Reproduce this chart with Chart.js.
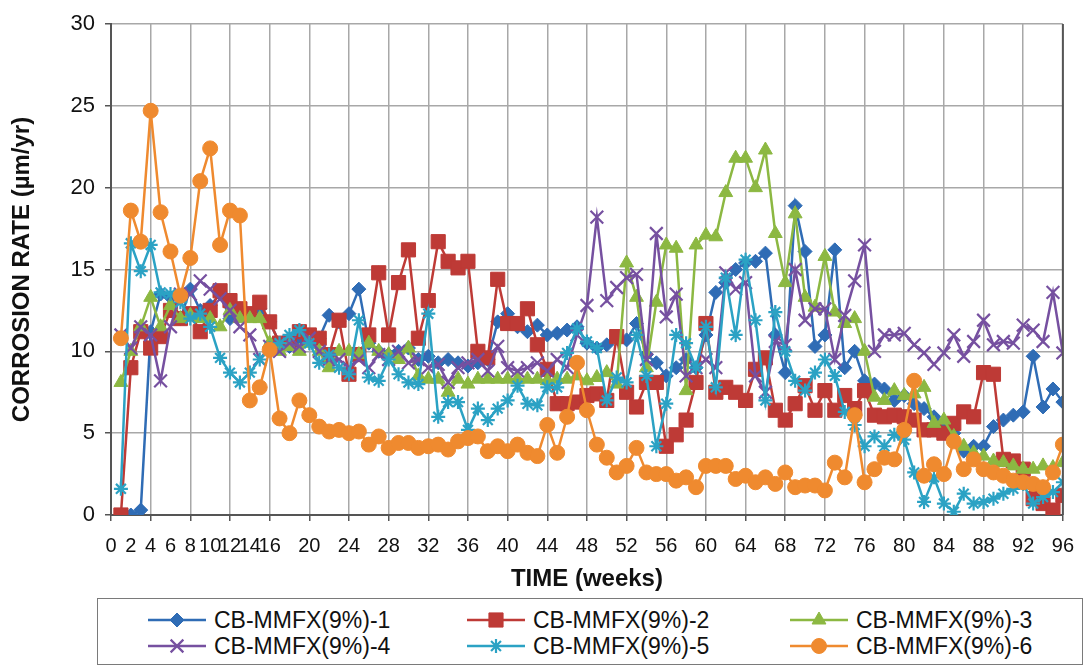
<!DOCTYPE html>
<html>
<head>
<meta charset="utf-8">
<script src="https://cdn.jsdelivr.net/npm/chart.js@4.4.0/dist/chart.umd.min.js"></script>
<style>
  body { margin: 0; background: #fff; font-family: "Liberation Sans", Arial, sans-serif; }
  #wrap { position: relative; width: 1087px; height: 668px; }
  #grafico { position: absolute; left: 0; top: 0; }
  #legend { position: absolute; left: 97px; top: 598px; width: 986px; height: 67px; border: 1.5px solid #7a7a7a; box-sizing: border-box; }
  .item { position: absolute; display: flex; align-items: center; color: #111; height: 24px; }
  .item span { font: 23px "Liberation Sans", Arial, sans-serif; white-space: nowrap; }
  .item canvas { margin-right: 8px; }
</style>
</head>
<body>
<div id="wrap">
  <canvas id="grafico" width="1087" height="595"></canvas>
  <div id="legend"></div>
</div>
<script>
// weeks 1..96
const semanas = [];
for (let w = 1; w <= 96; w++) semanas.push(w);

const nomes = ['CB-MMFX(9%)-1', 'CB-MMFX(9%)-2', 'CB-MMFX(9%)-3', 'CB-MMFX(9%)-4', 'CB-MMFX(9%)-5', 'CB-MMFX(9%)-6'];

// x labels shown: every 2 up to 16, then every 4
const rotulosX = [0, 2, 4, 6, 8, 10, 12, 14, 16, 20, 24, 28, 32, 36, 40, 44, 48, 52, 56, 60, 64, 68, 72, 76, 80, 84, 88, 92, 96];

const serie1 = [
  0, 0, 0.3, 11.2, 13.5, 13.3, 12.0, 13.8, 12.5, 12.8, 13.5, 12.0,
  12.6, 12.2, 12.6, 11.8, 10.5, 10.3, 10.5, 10.6, 10.8, 12.2, 11.8, 12.3,
  13.8, 10.5, 10.0, 9.8, 10.0, 10.2, 9.5, 9.7, 9.3, 9.5, 9.3, 9.1,
  9.3, 9.5, 11.8, 12.3, 11.5, 11.2, 11.6, 11.0, 11.1, 11.3, 11.5, 10.5,
  10.2, 10.4, 10.8, 10.7, 11.7, 9.8, 9.3, 8.5, 9.0, 9.5, 9.0, 11.0,
  13.6, 14.2, 15.0, 15.4, 15.5, 16.0, 11.0, 8.7, 18.9, 16.1, 10.3, 11.0,
  16.2, 9.0, 10.0, 8.2, 8.0, 7.7, 7.0, 7.3, 6.8, 6.5, 6.0, 5.5,
  5.0, 3.9, 4.2, 4.2, 5.4, 5.8, 6.1, 6.3, 9.7, 6.6, 7.7, 6.9
];
const serie2 = [
  0, 9.0, 11.2, 10.2, 10.9, 12.5, 12.0, 12.3, 11.2, 12.5, 13.7, 13.1,
  12.6, 12.3, 13.0, 11.8, 10.5, 10.5, 11.2, 11.0, 10.8, 9.8, 11.9, 8.6,
  9.8, 11.0, 14.8, 11.0, 14.2, 16.2, 10.8, 13.1, 16.7, 15.5, 15.1, 15.5,
  10.0, 9.6, 14.4, 11.7, 11.7, 12.6, 10.4, 8.9, 6.8, 6.8, 6.9, 7.3,
  7.4, 7.0, 10.9, 7.5, 6.6, 8.1, 8.1, 4.2, 4.9, 5.8, 8.1, 11.7,
  7.5, 7.8, 7.5, 7.0, 8.9, 9.6, 6.4, 5.8, 6.8, 7.9, 6.4, 7.6,
  6.4, 7.3, 6.5, 7.6, 6.1, 6.0, 6.1, 6.0, 5.8, 5.2, 5.2, 5.0,
  5.6, 6.3, 6.0, 8.7, 8.6, 3.4, 3.3, 2.8, 1.0, 0.7, 0.3, 1.2
];
const serie3 = [
  8.1, 10.0, 11.5, 13.3, 11.5, 12.8, 12.0, 12.2, 12.0, 12.0, 11.5, 12.5,
  12.0, 12.0, 12.0, 10.5, 10.0, 10.3, 10.0, 10.5, 10.0, 9.0, 10.0, 10.0,
  9.8, 10.5, 10.0, 9.8, 9.5, 10.2, 8.5, 8.3, 8.3, 7.5, 8.3, 8.0,
  8.3, 8.3, 8.3, 8.3, 8.3, 8.3, 8.3, 8.2, 8.3, 8.3, 8.5, 8.2,
  8.4, 8.7, 8.0, 15.4, 13.3, 9.0, 13.0, 16.5, 16.3, 7.6, 16.5, 17.1,
  17.0, 19.7, 21.8, 21.8, 20.0, 22.3, 17.2, 14.2, 18.4, 13.3, 12.7, 15.8,
  12.4, 11.7, 12.0, 10.0, 7.2, 7.0, 7.6, 7.3, 7.4, 7.8, 5.6, 5.8,
  4.8, 4.2, 3.8, 3.6, 3.3, 3.2, 3.0, 2.8, 2.8, 3.0, 2.9, 3.2
];
const serie4 = [
  11.0, 10.2, 11.5, 11.0, 8.2, 11.5, 13.5, 13.5, 14.3, 13.8, 13.2, 12.5,
  11.5, 11.0, 9.5, 10.3, 10.0, 10.5, 10.3, 10.8, 10.0, 9.5, 9.5, 9.0,
  9.5, 9.0, 9.8, 9.5, 10.0, 9.3, 9.5, 9.0, 9.2, 8.1, 9.0, 9.3,
  9.5, 8.8, 10.3, 9.0, 8.8, 9.0, 9.3, 8.8, 9.5, 9.0, 11.0, 12.8,
  18.2, 13.1, 13.9, 14.5, 14.7, 9.5, 17.2, 12.1, 13.5, 8.5, 9.0, 9.5,
  9.0, 14.8, 13.8, 14.2, 8.5, 7.5, 10.6, 10.4, 15.0, 11.9, 12.6, 12.6,
  9.5, 12.2, 14.3, 16.5, 10.0, 11.0, 11.0, 11.1, 10.4, 9.9, 9.2, 9.9,
  11.0, 9.7, 10.6, 11.9, 10.4, 10.6, 10.5, 11.6, 11.3, 10.6, 13.6, 9.9
];
const serie5 = [
  1.6, 16.6, 14.9, 16.5, 13.6, 13.5, 13.0, 12.0, 12.3, 11.5, 9.6, 8.7,
  8.1, 8.7, 9.5, 10.2, 10.5, 11.0, 11.3, 10.5, 9.3, 9.8, 9.0, 8.6,
  11.9, 8.4, 8.2, 9.5, 8.6, 8.1, 8.0, 12.3, 6.0, 6.9, 6.9, 5.2,
  6.5, 5.8, 6.5, 7.0, 7.9, 6.8, 6.7, 7.8, 7.8, 9.9, 11.4, 10.6,
  10.2, 7.0, 8.4, 8.1, 11.0, 8.5, 4.2, 6.8, 11.0, 10.5, 9.0, 11.5,
  7.8, 14.5, 11.0, 15.6, 11.9, 7.0, 12.4, 10.0, 8.2, 7.6, 8.7, 9.5,
  8.5, 6.3, 5.5, 4.2, 4.8, 4.2, 4.9, 4.6, 2.6, 0.8, 2.3, 0.7,
  0.2, 1.3, 0.7, 0.8, 1.0, 1.3, 1.6, 1.9, 0.7, 1.1, 1.4, 2.0
];
const serie6 = [
  10.8, 18.6, 16.7, 24.7, 18.5, 16.1, 13.4, 15.7, 20.4, 22.4, 16.5, 18.6,
  18.3, 7.0, 7.8, 10.1, 5.9, 5.0, 7.0, 6.1, 5.4, 5.1, 5.2, 5.0,
  5.1, 4.3, 4.8, 4.1, 4.4, 4.4, 4.1, 4.2, 4.3, 4.0, 4.5, 4.7,
  4.8, 3.9, 4.2, 3.9, 4.3, 3.8, 3.6, 5.5, 3.8, 6.0, 9.3, 6.4,
  4.3, 3.5, 2.6, 3.0, 4.1, 2.6, 2.5, 2.5, 2.1, 2.3, 1.7, 3.0,
  3.0, 3.0, 2.2, 2.4, 2.0, 2.3, 1.9, 2.6, 1.7, 1.8, 1.8, 1.5,
  3.2, 2.3, 6.1, 2.0, 2.8, 3.5, 3.4, 5.2, 8.2, 2.4, 3.1, 2.5,
  4.5, 2.8, 3.4, 2.8, 2.6, 2.4, 2.1, 2.0, 1.9, 1.7, 2.6, 4.3
];

const series = [serie1, serie2, serie3, serie4, serie5, serie6];
const cores = ['#2f6cb5', '#be3a36', '#8cb842', '#7650a0', '#2ba2c4', '#ef8a2f'];
const estilos = ['rectRot', 'rect', 'triangle', 'crossRot', 'star', 'circle'];
const raios = [7, 10, 8, 9, 7, 7.5];

const fonte = '"Liberation Sans", Arial, sans-serif';

const datasets = series.map((s, i) => ({
  label: nomes[i],
  data: s.map((v, k) => ({ x: semanas[k], y: v })),
  borderColor: cores[i],
  backgroundColor: cores[i],
  borderWidth: 2.5,
  pointStyle: estilos[i],
  pointRadius: raios[i],
  pointBorderWidth: (estilos[i] === 'crossRot' || estilos[i] === 'star') ? 2.2 : 1,
  pointBackgroundColor: cores[i],
  pointBorderColor: cores[i],
  tension: 0,
  order: 6 - i
}));

const bordaDireita = {
  id: 'bordaDireita',
  afterDraw(chart) {
    const a = chart.chartArea;
    const ctx = chart.ctx;
    ctx.save();
    ctx.strokeStyle = '#555';
    ctx.lineWidth = 2;
    ctx.beginPath();
    ctx.moveTo(a.right, a.top);
    ctx.lineTo(a.right, a.bottom);
    ctx.stroke();
    ctx.restore();
  }
};

const ctx = document.getElementById('grafico').getContext('2d');
new Chart(ctx, {
  type: 'line',
  data: { datasets: datasets },
  options: {
    responsive: false,
    animation: false,
    layout: { padding: { left: 0, right: 20, top: 24, bottom: 0 } },
    plugins: { legend: { display: false }, tooltip: { enabled: false } },
    scales: {
      x: {
        type: 'linear',
        min: 0,
        max: 96,
        ticks: {
          stepSize: 2, autoSkip: false, maxRotation: 0, padding: 13, color: '#111',
          font: { size: 20, family: fonte },
          callback: v => rotulosX.includes(v) ? String(v) : ''
        },
        grid: {
          color: c => (c.tick && c.tick.value % 4 === 0) ? '#a8a8a8' : 'rgba(0,0,0,0)',
          tickColor: c => (c.tick && c.tick.value % 4 === 0) ? '#555' : 'rgba(0,0,0,0)',
          lineWidth: 1.5,
          tickLength: 6
        },
        border: { color: '#555', width: 2 },
        title: { display: true, text: 'TIME (weeks)', color: '#111', font: { size: 24, weight: 'bold', family: fonte }, padding: { top: 0, bottom: 1 } },
        afterFit: s => { s.height = 80; }
      },
      y: {
        min: 0,
        max: 30,
        ticks: { stepSize: 5, padding: 10, color: '#111', font: { size: 22, family: fonte } },
        grid: { color: '#a8a8a8', tickColor: '#555', lineWidth: 1.5, tickLength: 6 },
        border: { color: '#555', width: 2 },
        title: { display: true, text: 'CORROSION RATE (µm/yr)', color: '#111', font: { size: 24, weight: 'bold', family: fonte }, padding: { top: 8, bottom: 0 } },
        afterFit: s => { s.width = 111; }
      }
    }
  },
  plugins: [bordaDireita]
});

// legend in a box, 3 columns x 2 rows
const legenda = document.getElementById('legend');
const posicoes = [[50, 9], [369, 9], [692, 9], [50, 35], [369, 35], [692, 35]];
nomes.forEach((nome, i) => {
  const item = document.createElement('div');
  item.className = 'item';
  item.style.left = posicoes[i][0] + 'px';
  item.style.top = posicoes[i][1] + 'px';
  const amostra = document.createElement('canvas');
  amostra.width = 58;
  amostra.height = 22;
  const c = amostra.getContext('2d');
  c.strokeStyle = cores[i];
  c.fillStyle = cores[i];
  c.lineWidth = 2.5;
  c.beginPath();
  c.moveTo(0, 11);
  c.lineTo(58, 11);
  c.stroke();
  c.lineWidth = datasets[i].pointBorderWidth;
  Chart.helpers.drawPoint(c, { pointStyle: estilos[i], radius: raios[i], rotation: 0, borderWidth: datasets[i].pointBorderWidth }, 29, 11);
  const texto = document.createElement('span');
  texto.textContent = nome;
  item.appendChild(amostra);
  item.appendChild(texto);
  legenda.appendChild(item);
});
</script>
</body>
</html>
